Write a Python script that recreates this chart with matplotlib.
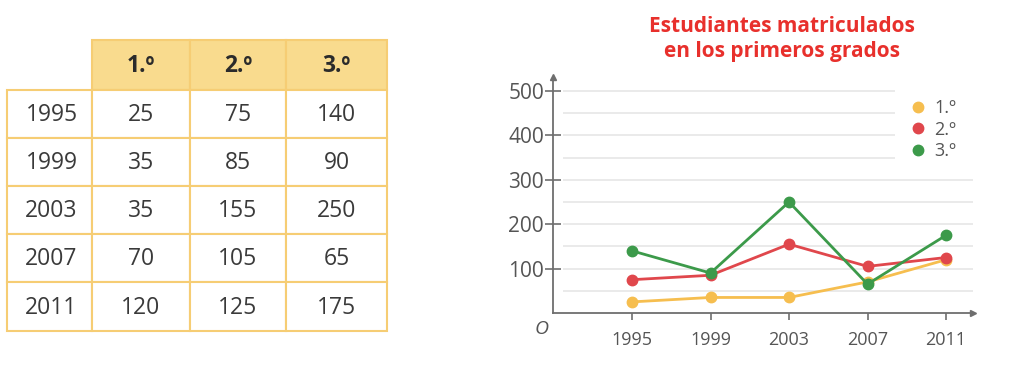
import matplotlib.pyplot as plt
from matplotlib.patches import Rectangle

# Data
years = [1995, 1999, 2003, 2007, 2011]
grades = ['1.º', '2.º', '3.º']
grade1 = [25, 35, 35, 70, 120]
grade2 = [75, 85, 155, 105, 125]
grade3 = [140, 90, 250, 65, 175]
yticks = [100, 200, 300, 400, 500]

colors = ['#F6BE4F', '#E0474C', '#3C9A4A']
series = [grade1, grade2, grade3]

W, H = 1024, 367
fig = plt.figure(figsize=(W / 100, H / 100), dpi=100)
plt.rcParams['font.family'] = ['Open Sans', 'DejaVu Sans']

# ---------------- Table (pixel coordinates) ----------------
tab = fig.add_axes([0, 0, 1, 1])
tab.set_xlim(0, W)
tab.set_ylim(H, 0)
tab.axis('off')

border = '#F6CD74'
head_fill = '#F9DB8E'
col_x = [7, 92, 190, 286, 387]
head_y = (40, 90)
row_y = [90, 138, 186, 234, 282, 331]

# header cells
for j in range(3):
    x0, x1 = col_x[j + 1], col_x[j + 2]
    tab.add_patch(Rectangle((x0, head_y[0]), x1 - x0, head_y[1] - head_y[0],
                            facecolor=head_fill, edgecolor=border, lw=1.5))
    tab.text((x0 + x1) / 2, (head_y[0] + head_y[1]) / 2 + 1, grades[j],
             ha='center', va='center', fontsize=16.5, fontweight='bold', color='#2b2b2b')

# body cells
for i, yr in enumerate(years):
    y0, y1 = row_y[i], row_y[i + 1]
    vals = [yr, grade1[i], grade2[i], grade3[i]]
    for j in range(4):
        x0, x1 = col_x[j], col_x[j + 1]
        tab.add_patch(Rectangle((x0, y0), x1 - x0, y1 - y0,
                                facecolor='white', edgecolor=border, lw=1.5))
        tab.text((x0 + x1) / 2 + (2 if j == 0 else 0), (y0 + y1) / 2 + 1, str(vals[j]),
                 ha='center', va='center', fontsize=16.5, color='#3a3a3a')

# ---------------- Line chart ----------------
ax_left, ax_right = 553, 973
ax_bottom, ax_top = 313, 77
ax = fig.add_axes([ax_left / W, (H - ax_bottom) / H,
                   (ax_right - ax_left) / W, (ax_bottom - ax_top) / H])
ax.set_facecolor('none')

px_per_unit = (313 - 91) / 500
px_per_year = (946 - 632) / 16
ax.set_ylim(0, (ax_bottom - ax_top) / px_per_unit)
ax.set_xlim(1995 - (632 - ax_left) / px_per_year, 2011 + (ax_right - 946) / px_per_year)

# grid lines
for v in range(50, 501, 50):
    xe = 2012.4 if v <= 300 else 2008.4
    ax.hlines(v, 1991.5, xe, color='#e6e6e6', lw=1.2, zorder=0)

for vals, c, lab in zip(series, colors, grades):
    ax.plot(years, vals, color=c, lw=2, marker='o', markersize=7.5, label=lab, zorder=3)

for s in ['top', 'right']:
    ax.spines[s].set_visible(False)
for s in ['left', 'bottom']:
    ax.spines[s].set_color('#6e6e6e')
    ax.spines[s].set_linewidth(1.3)

ax.plot(1, 0, '>', color='#6e6e6e', markersize=5, transform=ax.transAxes, clip_on=False)
ax.plot(0, 1, '^', color='#6e6e6e', markersize=5, transform=ax.transAxes, clip_on=False)

ax.set_yticks(yticks)
ax.set_yticklabels([str(v) for v in yticks])
ax.set_xticks(years)
ax.set_xticklabels([str(y) for y in years])
ax.tick_params(axis='y', direction='inout', length=11, width=1.2, color='#6e6e6e',
               labelsize=15, labelcolor='#555555', pad=1)
ax.tick_params(axis='x', direction='out', length=5, width=1.2, color='#6e6e6e',
               labelsize=13, labelcolor='#555555', pad=8)

ax.text(-0.01, -0.03, 'O', transform=ax.transAxes, ha='right', va='top',
        fontsize=14, style='italic', color='#555555')

leg = ax.legend(loc='upper left', bbox_to_anchor=(0.83, 0.975), frameon=False,
                handlelength=0, handletextpad=0.9, labelspacing=0.2,
                fontsize=13, markerscale=1.0)
for t in leg.get_texts():
    t.set_color('#555555')
for h in leg.legend_handles:
    h.set_linestyle('none')

fig.text(782 / W, 1 - 39 / H, 'Estudiantes matriculados\nen los primeros grados',
         ha='center', va='center', fontsize=15, fontweight='bold', color='#E8302C',
         linespacing=1.3)

fig.savefig('out.png', dpi=100, facecolor='white')
